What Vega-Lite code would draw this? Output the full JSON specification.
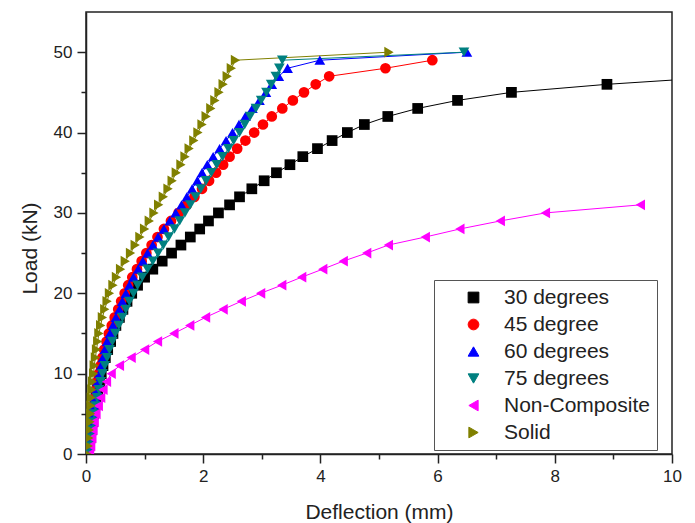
{
"$schema": "https://vega.github.io/schema/vega-lite/v6.json",
"width": 586, "height": 442,
"autosize": "none",
"padding": {"left": 86, "top": 12, "right": 23, "bottom": 69},
"background": "white",
"config": {
  "view": {"stroke": "#222", "strokeWidth": 1.5},
  "font": "Liberation Sans",
  "axis": {"domainColor": "#222", "domainWidth": 1.5, "tickColor": "#222", "tickWidth": 1.5, "labelColor": "#222", "titleColor": "#222", "labelFont": "Liberation Sans", "titleFont": "Liberation Sans", "labelFontSize": 17, "titleFontSize": 21, "titleFontWeight": "normal", "grid": false, "labelPadding": 5, "labelOverlap": false}
},
"data": {"values": [
{"series":"30 degrees","load":0,"defl":0.03},{"series":"30 degrees","load":1,"defl":0.05},{"series":"30 degrees","load":2,"defl":0.07},{"series":"30 degrees","load":3,"defl":0.09},{"series":"30 degrees","load":4,"defl":0.11},{"series":"30 degrees","load":5,"defl":0.13},{"series":"30 degrees","load":6,"defl":0.15},{"series":"30 degrees","load":7,"defl":0.17},{"series":"30 degrees","load":8,"defl":0.20},{"series":"30 degrees","load":9,"defl":0.23},{"series":"30 degrees","load":10,"defl":0.26},{"series":"30 degrees","load":11,"defl":0.29},{"series":"30 degrees","load":12,"defl":0.33},{"series":"30 degrees","load":13,"defl":0.37},{"series":"30 degrees","load":14,"defl":0.42},{"series":"30 degrees","load":15,"defl":0.46},{"series":"30 degrees","load":16,"defl":0.51},{"series":"30 degrees","load":17,"defl":0.57},{"series":"30 degrees","load":18,"defl":0.63},{"series":"30 degrees","load":19,"defl":0.70},{"series":"30 degrees","load":20,"defl":0.78},{"series":"30 degrees","load":21,"defl":0.88},{"series":"30 degrees","load":22,"defl":1.00},{"series":"30 degrees","load":23,"defl":1.14},{"series":"30 degrees","load":24,"defl":1.30},{"series":"30 degrees","load":25,"defl":1.46},{"series":"30 degrees","load":26,"defl":1.62},{"series":"30 degrees","load":27,"defl":1.78},{"series":"30 degrees","load":28,"defl":1.94},{"series":"30 degrees","load":29,"defl":2.09},{"series":"30 degrees","load":30,"defl":2.26},{"series":"30 degrees","load":31,"defl":2.45},{"series":"30 degrees","load":32,"defl":2.62},{"series":"30 degrees","load":33,"defl":2.83},{"series":"30 degrees","load":34,"defl":3.04},{"series":"30 degrees","load":35,"defl":3.25},{"series":"30 degrees","load":36,"defl":3.48},{"series":"30 degrees","load":37,"defl":3.70},{"series":"30 degrees","load":38,"defl":3.95},{"series":"30 degrees","load":39,"defl":4.20},{"series":"30 degrees","load":40,"defl":4.46},{"series":"30 degrees","load":41,"defl":4.75},{"series":"30 degrees","load":42,"defl":5.15},{"series":"30 degrees","load":43,"defl":5.66},{"series":"30 degrees","load":44,"defl":6.34},{"series":"30 degrees","load":45,"defl":7.26},{"series":"30 degrees","load":46,"defl":8.89},{"series":"30 degrees","load":47,"defl":11.0},
{"series":"45 degree","load":0,"defl":0.02},{"series":"45 degree","load":1,"defl":0.04},{"series":"45 degree","load":2,"defl":0.05},{"series":"45 degree","load":3,"defl":0.07},{"series":"45 degree","load":4,"defl":0.09},{"series":"45 degree","load":5,"defl":0.11},{"series":"45 degree","load":6,"defl":0.13},{"series":"45 degree","load":7,"defl":0.15},{"series":"45 degree","load":8,"defl":0.17},{"series":"45 degree","load":9,"defl":0.19},{"series":"45 degree","load":10,"defl":0.22},{"series":"45 degree","load":11,"defl":0.25},{"series":"45 degree","load":12,"defl":0.28},{"series":"45 degree","load":13,"defl":0.31},{"series":"45 degree","load":14,"defl":0.35},{"series":"45 degree","load":15,"defl":0.39},{"series":"45 degree","load":16,"defl":0.44},{"series":"45 degree","load":17,"defl":0.49},{"series":"45 degree","load":18,"defl":0.55},{"series":"45 degree","load":19,"defl":0.60},{"series":"45 degree","load":20,"defl":0.66},{"series":"45 degree","load":21,"defl":0.72},{"series":"45 degree","load":22,"defl":0.79},{"series":"45 degree","load":23,"defl":0.87},{"series":"45 degree","load":24,"defl":0.95},{"series":"45 degree","load":25,"defl":1.03},{"series":"45 degree","load":26,"defl":1.12},{"series":"45 degree","load":27,"defl":1.22},{"series":"45 degree","load":28,"defl":1.33},{"series":"45 degree","load":29,"defl":1.45},{"series":"45 degree","load":30,"defl":1.58},{"series":"45 degree","load":31,"defl":1.72},{"series":"45 degree","load":32,"defl":1.85},{"series":"45 degree","load":33,"defl":1.98},{"series":"45 degree","load":34,"defl":2.10},{"series":"45 degree","load":35,"defl":2.22},{"series":"45 degree","load":36,"defl":2.34},{"series":"45 degree","load":37,"defl":2.45},{"series":"45 degree","load":38,"defl":2.58},{"series":"45 degree","load":39,"defl":2.72},{"series":"45 degree","load":40,"defl":2.87},{"series":"45 degree","load":41,"defl":3.02},{"series":"45 degree","load":42,"defl":3.17},{"series":"45 degree","load":43,"defl":3.35},{"series":"45 degree","load":44,"defl":3.53},{"series":"45 degree","load":45,"defl":3.72},{"series":"45 degree","load":46,"defl":3.92},{"series":"45 degree","load":47,"defl":4.15},{"series":"45 degree","load":48,"defl":5.11},{"series":"45 degree","load":49,"defl":5.91},
{"series":"60 degrees","load":0,"defl":0.03},{"series":"60 degrees","load":1,"defl":0.05},{"series":"60 degrees","load":2,"defl":0.06},{"series":"60 degrees","load":3,"defl":0.08},{"series":"60 degrees","load":4,"defl":0.10},{"series":"60 degrees","load":5,"defl":0.12},{"series":"60 degrees","load":6,"defl":0.14},{"series":"60 degrees","load":7,"defl":0.16},{"series":"60 degrees","load":8,"defl":0.18},{"series":"60 degrees","load":9,"defl":0.20},{"series":"60 degrees","load":10,"defl":0.23},{"series":"60 degrees","load":11,"defl":0.26},{"series":"60 degrees","load":12,"defl":0.29},{"series":"60 degrees","load":13,"defl":0.32},{"series":"60 degrees","load":14,"defl":0.36},{"series":"60 degrees","load":15,"defl":0.41},{"series":"60 degrees","load":16,"defl":0.46},{"series":"60 degrees","load":17,"defl":0.51},{"series":"60 degrees","load":18,"defl":0.57},{"series":"60 degrees","load":19,"defl":0.62},{"series":"60 degrees","load":20,"defl":0.68},{"series":"60 degrees","load":21,"defl":0.74},{"series":"60 degrees","load":22,"defl":0.81},{"series":"60 degrees","load":23,"defl":0.89},{"series":"60 degrees","load":24,"defl":0.97},{"series":"60 degrees","load":25,"defl":1.05},{"series":"60 degrees","load":26,"defl":1.14},{"series":"60 degrees","load":27,"defl":1.23},{"series":"60 degrees","load":28,"defl":1.33},{"series":"60 degrees","load":29,"defl":1.43},{"series":"60 degrees","load":30,"defl":1.53},{"series":"60 degrees","load":31,"defl":1.63},{"series":"60 degrees","load":32,"defl":1.72},{"series":"60 degrees","load":33,"defl":1.81},{"series":"60 degrees","load":34,"defl":1.90},{"series":"60 degrees","load":35,"defl":1.98},{"series":"60 degrees","load":36,"defl":2.07},{"series":"60 degrees","load":37,"defl":2.17},{"series":"60 degrees","load":38,"defl":2.28},{"series":"60 degrees","load":39,"defl":2.39},{"series":"60 degrees","load":40,"defl":2.50},{"series":"60 degrees","load":41,"defl":2.61},{"series":"60 degrees","load":42,"defl":2.72},{"series":"60 degrees","load":43,"defl":2.84},{"series":"60 degrees","load":44,"defl":2.96},{"series":"60 degrees","load":45,"defl":3.07},{"series":"60 degrees","load":46,"defl":3.17},{"series":"60 degrees","load":47,"defl":3.29},{"series":"60 degrees","load":48,"defl":3.44},{"series":"60 degrees","load":49,"defl":3.99},{"series":"60 degrees","load":50,"defl":6.50},
{"series":"75 degrees","load":0,"defl":0.04},{"series":"75 degrees","load":1,"defl":0.06},{"series":"75 degrees","load":2,"defl":0.08},{"series":"75 degrees","load":3,"defl":0.10},{"series":"75 degrees","load":4,"defl":0.12},{"series":"75 degrees","load":5,"defl":0.14},{"series":"75 degrees","load":6,"defl":0.16},{"series":"75 degrees","load":7,"defl":0.19},{"series":"75 degrees","load":8,"defl":0.22},{"series":"75 degrees","load":9,"defl":0.25},{"series":"75 degrees","load":10,"defl":0.28},{"series":"75 degrees","load":11,"defl":0.32},{"series":"75 degrees","load":12,"defl":0.36},{"series":"75 degrees","load":13,"defl":0.40},{"series":"75 degrees","load":14,"defl":0.45},{"series":"75 degrees","load":15,"defl":0.50},{"series":"75 degrees","load":16,"defl":0.56},{"series":"75 degrees","load":17,"defl":0.62},{"series":"75 degrees","load":18,"defl":0.68},{"series":"75 degrees","load":19,"defl":0.74},{"series":"75 degrees","load":20,"defl":0.81},{"series":"75 degrees","load":21,"defl":0.88},{"series":"75 degrees","load":22,"defl":0.96},{"series":"75 degrees","load":23,"defl":1.05},{"series":"75 degrees","load":24,"defl":1.14},{"series":"75 degrees","load":25,"defl":1.23},{"series":"75 degrees","load":26,"defl":1.32},{"series":"75 degrees","load":27,"defl":1.41},{"series":"75 degrees","load":28,"defl":1.51},{"series":"75 degrees","load":29,"defl":1.60},{"series":"75 degrees","load":30,"defl":1.69},{"series":"75 degrees","load":31,"defl":1.78},{"series":"75 degrees","load":32,"defl":1.87},{"series":"75 degrees","load":33,"defl":1.96},{"series":"75 degrees","load":34,"defl":2.05},{"series":"75 degrees","load":35,"defl":2.14},{"series":"75 degrees","load":36,"defl":2.23},{"series":"75 degrees","load":37,"defl":2.33},{"series":"75 degrees","load":38,"defl":2.43},{"series":"75 degrees","load":39,"defl":2.52},{"series":"75 degrees","load":40,"defl":2.62},{"series":"75 degrees","load":41,"defl":2.71},{"series":"75 degrees","load":42,"defl":2.80},{"series":"75 degrees","load":43,"defl":2.90},{"series":"75 degrees","load":44,"defl":2.99},{"series":"75 degrees","load":45,"defl":3.08},{"series":"75 degrees","load":46,"defl":3.16},{"series":"75 degrees","load":47,"defl":3.24},{"series":"75 degrees","load":48,"defl":3.30},{"series":"75 degrees","load":49,"defl":3.35},{"series":"75 degrees","load":50,"defl":6.45},
{"series":"Non-Composite","load":0,"defl":0.06},{"series":"Non-Composite","load":1,"defl":0.08},{"series":"Non-Composite","load":2,"defl":0.10},{"series":"Non-Composite","load":3,"defl":0.12},{"series":"Non-Composite","load":4,"defl":0.14},{"series":"Non-Composite","load":5,"defl":0.17},{"series":"Non-Composite","load":6,"defl":0.21},{"series":"Non-Composite","load":7,"defl":0.25},{"series":"Non-Composite","load":8,"defl":0.29},{"series":"Non-Composite","load":9,"defl":0.35},{"series":"Non-Composite","load":10,"defl":0.43},{"series":"Non-Composite","load":11,"defl":0.57},{"series":"Non-Composite","load":12,"defl":0.77},{"series":"Non-Composite","load":13,"defl":1.00},{"series":"Non-Composite","load":14,"defl":1.22},{"series":"Non-Composite","load":15,"defl":1.50},{"series":"Non-Composite","load":16,"defl":1.77},{"series":"Non-Composite","load":17,"defl":2.04},{"series":"Non-Composite","load":18,"defl":2.34},{"series":"Non-Composite","load":19,"defl":2.65},{"series":"Non-Composite","load":20,"defl":2.98},{"series":"Non-Composite","load":21,"defl":3.34},{"series":"Non-Composite","load":22,"defl":3.68},{"series":"Non-Composite","load":23,"defl":4.04},{"series":"Non-Composite","load":24,"defl":4.39},{"series":"Non-Composite","load":25,"defl":4.79},{"series":"Non-Composite","load":26,"defl":5.16},{"series":"Non-Composite","load":27,"defl":5.79},{"series":"Non-Composite","load":28,"defl":6.38},{"series":"Non-Composite","load":29,"defl":7.07},{"series":"Non-Composite","load":30,"defl":7.84},{"series":"Non-Composite","load":31,"defl":9.46},
{"series":"Solid","load":0,"defl":0.02},{"series":"Solid","load":1,"defl":0.04},{"series":"Solid","load":2,"defl":0.05},{"series":"Solid","load":3,"defl":0.06},{"series":"Solid","load":4,"defl":0.07},{"series":"Solid","load":5,"defl":0.08},{"series":"Solid","load":6,"defl":0.085},{"series":"Solid","load":7,"defl":0.09},{"series":"Solid","load":8,"defl":0.10},{"series":"Solid","load":9,"defl":0.11},{"series":"Solid","load":10,"defl":0.13},{"series":"Solid","load":11,"defl":0.14},{"series":"Solid","load":12,"defl":0.16},{"series":"Solid","load":13,"defl":0.18},{"series":"Solid","load":14,"defl":0.20},{"series":"Solid","load":15,"defl":0.22},{"series":"Solid","load":16,"defl":0.25},{"series":"Solid","load":17,"defl":0.28},{"series":"Solid","load":18,"defl":0.32},{"series":"Solid","load":19,"defl":0.36},{"series":"Solid","load":20,"defl":0.40},{"series":"Solid","load":21,"defl":0.46},{"series":"Solid","load":22,"defl":0.52},{"series":"Solid","load":23,"defl":0.59},{"series":"Solid","load":24,"defl":0.67},{"series":"Solid","load":25,"defl":0.76},{"series":"Solid","load":26,"defl":0.84},{"series":"Solid","load":27,"defl":0.92},{"series":"Solid","load":28,"defl":1.00},{"series":"Solid","load":29,"defl":1.08},{"series":"Solid","load":30,"defl":1.16},{"series":"Solid","load":31,"defl":1.24},{"series":"Solid","load":32,"defl":1.32},{"series":"Solid","load":33,"defl":1.40},{"series":"Solid","load":34,"defl":1.47},{"series":"Solid","load":35,"defl":1.54},{"series":"Solid","load":36,"defl":1.62},{"series":"Solid","load":37,"defl":1.69},{"series":"Solid","load":38,"defl":1.76},{"series":"Solid","load":39,"defl":1.84},{"series":"Solid","load":40,"defl":1.91},{"series":"Solid","load":41,"defl":1.98},{"series":"Solid","load":42,"defl":2.05},{"series":"Solid","load":43,"defl":2.13},{"series":"Solid","load":44,"defl":2.20},{"series":"Solid","load":45,"defl":2.27},{"series":"Solid","load":46,"defl":2.34},{"series":"Solid","load":47,"defl":2.41},{"series":"Solid","load":48,"defl":2.48},{"series":"Solid","load":49,"defl":2.55},{"series":"Solid","load":50,"defl":5.17}
]},
"encoding": {
  "x": {"field": "defl", "type": "quantitative",
    "scale": {"domain": [0, 10], "nice": false, "zero": false},
    "axis": {"title": "Deflection (mm)", "values": [0,1,2,3,4,5,6,7,8,9,10],
      "labelExpr": "datum.value % 2 === 0 ? datum.label : ''",
      "tickSize": {"condition": {"test": "datum.value % 2 === 0", "value": 9}, "value": 5},
      "labelFlush": false, "titleBaseline": "middle", "titleY": 58}},
  "y": {"field": "load", "type": "quantitative",
    "scale": {"domain": [0, 55], "nice": false, "zero": false},
    "axis": {"title": "Load (kN)", "values": [0,5,10,15,20,25,30,35,40,45,50],
      "labelExpr": "datum.value % 10 === 0 ? datum.label : ''",
      "tickSize": {"condition": {"test": "datum.value % 10 === 0", "value": 9}, "value": 5},
      "labelFlush": false, "titleBaseline": "middle", "titleX": -56, "titleY": 236}},
  "color": {"field": "series", "type": "nominal",
    "scale": {"domain": ["30 degrees","45 degree","60 degrees","75 degrees","Non-Composite","Solid"],
              "range": ["#000000","#ff0000","#0000ff","#008080","#ff00ff","#808000"]},
    "legend": {"orient": "none", "legendX": 348, "legendY": 268, "title": null,
         "labelFont": "Liberation Sans", "labelFontSize": 21, "labelColor": "#222",
         "strokeColor": "#555", "padding": 7, "rowPadding": 5,
         "symbolSize": 100, "symbolOffset": 22, "labelOffset": 20, "symbolStrokeWidth": 1}}
},
"layer": [
  {"mark": {"type": "line", "strokeWidth": 1, "clip": true},
   "encoding": {"order": {"field": "load", "type": "quantitative"}}},
  {"mark": {"type": "point", "filled": true, "opacity": 1, "clip": true},
   "encoding": {
     "shape": {"field": "series", "type": "nominal", "legend": null,
       "scale": {"domain": ["30 degrees","45 degree","60 degrees","75 degrees","Non-Composite","Solid"],
                 "range": ["square","circle","triangle-up","triangle-down","triangle-left","triangle-right"]}},
     "size": {"field": "series", "type": "nominal", "legend": null,
       "scale": {"domain": ["30 degrees","45 degree","60 degrees","75 degrees","Non-Composite","Solid"],
                 "range": [115, 115, 185, 185, 185, 185]}}
   }}
]
}
